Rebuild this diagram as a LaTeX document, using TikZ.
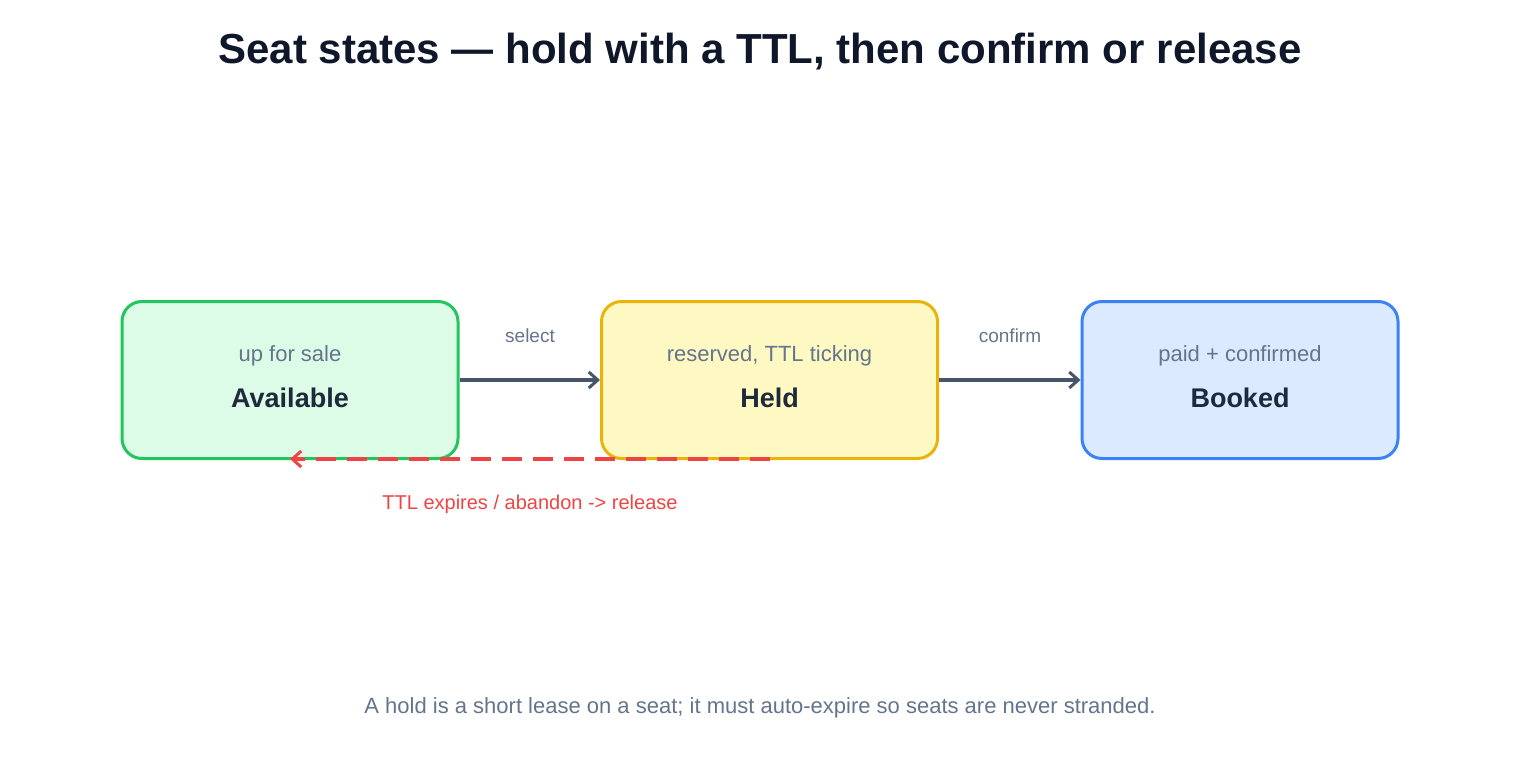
\documentclass[tikz,border=0pt]{standalone}
\usepackage{fontspec}
\setmainfont{Liberation Sans}
\usetikzlibrary{arrows.meta}
\definecolor{ttl}{HTML}{0F172A}
\definecolor{hd}{HTML}{1E293B}
\definecolor{sub}{HTML}{64748B}
\definecolor{arr}{HTML}{475569}
\definecolor{rd}{HTML}{EF4444}
\begin{document}
\begin{tikzpicture}[x=1pt,y=-1pt,
 box/.style={draw=#1,line width=3pt,rounded corners=20pt,minimum width=336pt,minimum height=157pt,inner sep=0pt},
 flow/.style={draw=arr,line width=3.5pt,-{Straight Barb[length=9pt,width=16pt,line width=3pt]}},
 lab/.style={font=\fontsize{19}{22}\selectfont,text=sub}]
\useasboundingbox (0,0) rectangle (1520,760);
\node[font=\bfseries\fontsize{42}{48}\selectfont,text=ttl] (title) at (760,52) {Seat states — hold with a TTL, then confirm or release};
\node[box=green!70!black!60!green,fill={rgb,255:red,220;green,252;blue,231},draw={rgb,255:red,34;green,197;blue,94}] (av) at (290,380) {};
\node[box=yellow,fill={rgb,255:red,254;green,249;blue,195},draw={rgb,255:red,234;green,179;blue,8}] (held) at (769.5,380) {};
\node[box=blue,fill={rgb,255:red,219;green,234;blue,254},draw={rgb,255:red,59;green,130;blue,246},minimum width=316pt] (bk) at (1240,380) {};
\foreach \n/\a/\b in {av/Available/up for sale,held/Held/{reserved, TTL ticking},bk/Booked/paid + confirmed}{
 \node[font=\bfseries\fontsize{27}{30}\selectfont,text=hd] (\n t) at ([yshift=-18pt]\n.center) {\a};
 \node[font=\fontsize{22}{26}\selectfont,text=sub] (\n s) at ([yshift=24pt]\n.center) {\b};
}
\draw[flow] (av.east) -- (held.west);
\draw[flow] (held.east) -- (bk.west);
\node[lab] (ls) at (530,336) {select};
\node[lab] (lc) at (1010,336) {confirm};
\coordinate (r1) at (770,459);
\coordinate (r2) at (290,459);
\draw[draw=rd,line width=3.5pt,dash pattern=on 20pt off 11pt,-{Straight Barb[length=9pt,width=16pt,line width=3pt]}] (r1) -- (r2);
\node[font=\fontsize{20}{24}\selectfont,text=rd] (lr) at (530,504) {TTL expires / abandon -> release};
\node[font=\fontsize{22}{26}\selectfont,text=sub] (foot) at (760,708) {A hold is a short lease on a seat; it must auto-expire so seats are never stranded.};
\end{tikzpicture}
\end{document}
